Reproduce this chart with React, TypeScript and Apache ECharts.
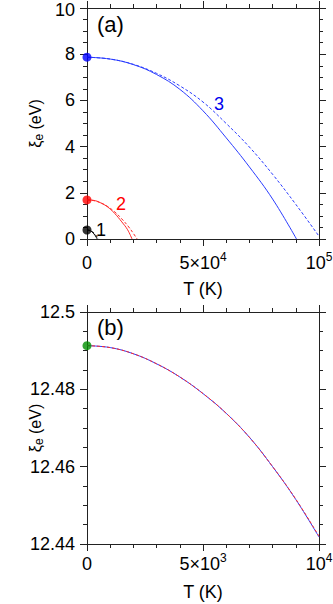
import React, { useEffect, useRef } from "react";
import * as echarts from "echarts";

// ---- Panel (a) data ----
const tBlueSolid = [0, 10000, 20000, 30000, 40000, 50000, 60000, 70000, 80000, 90300];
const xiBlueSolid = [7.87, 7.79, 7.55, 7.12, 6.48, 5.55, 4.38, 3.12, 1.73, 0];
const tBlueDash = [0, 10000, 20000, 30000, 40000, 50000, 60000, 70000, 80000, 90000, 100000];
const xiBlueDash = [7.87, 7.79, 7.56, 7.17, 6.63, 5.93, 5.0, 3.98, 2.8, 1.5, 0.12];
const tRedSolid = [0, 3000, 6000, 9000, 12000, 15000, 17500, 19400];
const xiRedSolid = [1.69, 1.67, 1.56, 1.38, 1.1, 0.74, 0.4, 0];
const tRedDash = [0, 3000, 6000, 9000, 12000, 15000, 18000, 20000, 21600];
const xiRedDash = [1.69, 1.66, 1.56, 1.4, 1.17, 0.87, 0.52, 0.24, 0];
const tBlackSolid = [0, 1500, 3000, 4400];
const xiBlackSolid = [0.39, 0.36, 0.22, 0];
const tBlackDash = [0, 2000, 3500, 5000];
const xiBlackDash = [0.39, 0.33, 0.2, 0];
const startA = [7.87, 1.69, 0.39];
const curveLabelsA = ["3", "2", "1"];

// ---- Panel (b) data ----
const tB = [0, 1000, 2000, 3000, 4000, 5000, 6000, 7000, 8000, 9000, 10000];
const xiBSolid = [12.4913, 12.4908, 12.4892, 12.4866, 12.4832, 12.4789, 12.4738, 12.4676, 12.46, 12.4515, 12.4418];
const xiBDash = [12.4913, 12.4908, 12.4892, 12.4866, 12.4832, 12.4789, 12.4738, 12.4676, 12.46, 12.4516, 12.442];
const startB = 12.4913;

// tick labels
const xTicksA: Record<number, string> = { 0: "{b|0}", 50000: "{b|5×10}{s|4}", 100000: "{b|10}{s|5}" };
const xTicksB: Record<number, string> = { 0: "{b|0}", 5000: "{b|5×10}{s|3}", 10000: "{b|10}{s|4}" };

const FONT = "Liberation Sans, Arial, Helvetica, sans-serif";
const FS = 18;
const AX = "#222";
const BLUE = "#2a3cff";
const RED = "#ff2a2a";

const pairs = (xs: number[], ys: number[]) => xs.map((x, i) => [x, ys[i]]);

const richX = {
  b: { fontSize: FS, fontFamily: FONT, color: "#000", lineHeight: 23 },
  s: { fontSize: 12, fontFamily: FONT, color: "#000", lineHeight: 12, verticalAlign: "top" },
};

function xAxisPair(gridIndex: number, max: number, interval: number, labels: Record<number, string>, margin: number, nameGap: number) {
  const common = {
    gridIndex,
    type: "value",
    min: 0,
    max,
    interval,
    axisLine: { show: true, onZero: false, lineStyle: { color: AX, width: 1 } },
    axisTick: { show: true, length: 7, lineStyle: { color: AX, width: 1 } },
    minorTick: { show: true, splitNumber: 5, length: 4, lineStyle: { color: AX, width: 1 } },
    splitLine: { show: false },
    minorSplitLine: { show: false },
  };
  return [
    {
      ...common,
      position: "bottom",
      name: "T (K)",
      nameLocation: "middle",
      nameGap,
      nameMoveOverlap: false,
      nameTextStyle: { fontSize: FS, fontFamily: FONT, color: "#000" },
      axisLabel: {
        show: true,
        margin,
        hideOverlap: false,
        formatter: (v: number) => labels[v] ?? "",
        rich: richX,
      },
    },
    { ...common, position: "top", axisLabel: { show: false } },
  ];
}

function yAxisPair(gridIndex: number, min: number, max: number, interval: number, fmt: (v: number) => string) {
  const common = {
    gridIndex,
    type: "value",
    min,
    max,
    interval,
    axisLine: { show: true, onZero: false, lineStyle: { color: AX, width: 1 } },
    axisTick: { show: true, length: 7, lineStyle: { color: AX, width: 1 } },
    minorTick: { show: true, splitNumber: 4, length: 4, lineStyle: { color: AX, width: 1 } },
    splitLine: { show: false },
    minorSplitLine: { show: false },
  };
  return [
    {
      ...common,
      position: "left",
      name: "{a|ξ}{e|e}{a| (eV)}",
      nameLocation: "middle",
      nameGap: 42,
      nameMoveOverlap: false,
      nameTextStyle: {
        rich: {
          a: { fontSize: 16, fontFamily: FONT, color: "#000", lineHeight: 20 },
          e: { fontSize: 12, fontFamily: FONT, color: "#000", lineHeight: 12, verticalAlign: "bottom" },
        },
      },
      axisLabel: {
        show: true,
        margin: 12,
        fontSize: FS,
        lineHeight: 14,
        fontFamily: FONT,
        color: "#000",
        formatter: fmt,
        rich: { t: { fontSize: FS, fontFamily: FONT, color: "#000", lineHeight: 14, padding: [4, 0, 0, 0] } },
      },
    },
    { ...common, position: "right", axisLabel: { show: false } },
  ];
}

function lineSeries(xi: number, yi: number, data: number[][], color: string, dashed: boolean, z = 2) {
  return {
    type: "line",
    xAxisIndex: xi,
    yAxisIndex: yi,
    data,
    smooth: 0.4,
    showSymbol: false,
    symbol: "none",
    z,
    lineStyle: { color, width: 1, type: dashed ? [3, 2] : "solid" },
  };
}

function dot(xi: number, yi: number, y: number, color: string) {
  return {
    type: "scatter",
    xAxisIndex: xi,
    yAxisIndex: yi,
    data: [[0, y]],
    symbol: "circle",
    symbolSize: 9,
    clip: false,
    z: 5,
    itemStyle: { color },
  };
}

export default function App() {
  const ref = useRef<HTMLDivElement>(null);
  useEffect(() => {
    if (!ref.current) return;
    const chart = echarts.init(ref.current, undefined, { renderer: "svg" });
    const option = {
      animation: false,
      backgroundColor: "#fff",
      grid: [
        { left: 87, top: 8, width: 232, height: 231, containLabel: false, outerBoundsMode: "none" },
        { left: 87, top: 312, width: 232, height: 232, containLabel: false, outerBoundsMode: "none" },
      ],
      xAxis: [
        ...xAxisPair(0, 100000, 50000, xTicksA, 12, 41),
        ...xAxisPair(1, 10000, 5000, xTicksB, 8, 39),
      ],
      yAxis: [
        ...yAxisPair(0, 0, 10, 2, (v: number) => (v >= 10 ? "{t|10}" : String(Math.round(v)))),
        ...yAxisPair(1, 12.44, 12.5, 0.02, (v: number) => String(parseFloat(v.toFixed(2)))),
      ],
      series: [
        lineSeries(0, 0, pairs(tBlueSolid, xiBlueSolid), BLUE, false),
        lineSeries(0, 0, pairs(tBlueDash, xiBlueDash), BLUE, true),
        lineSeries(0, 0, pairs(tRedSolid, xiRedSolid), RED, false),
        lineSeries(0, 0, pairs(tRedDash, xiRedDash), RED, true),
        lineSeries(0, 0, pairs(tBlackSolid, xiBlackSolid), "#000", false),
        lineSeries(0, 0, pairs(tBlackDash, xiBlackDash), "#000", true),
        dot(0, 0, startA[0], "#0000ff"),
        dot(0, 0, startA[1], "#ff0000"),
        dot(0, 0, startA[2], "#000000"),
        lineSeries(2, 2, pairs(tB, xiBSolid), BLUE, false, 2),
        lineSeries(2, 2, pairs(tB, xiBDash), RED, true, 3),
        dot(2, 2, startB, "#009000"),
      ],
      graphic: [
        { type: "text", left: 97, top: 13, style: { text: "(a)", fontSize: 22, fontFamily: FONT, fill: "#000" } },
        { type: "text", left: 97, top: 316, style: { text: "(b)", fontSize: 22, fontFamily: FONT, fill: "#000" } },
        { type: "text", left: 214, top: 95, style: { text: curveLabelsA[0], fontSize: FS, fontFamily: FONT, fill: "#0000ee" } },
        { type: "text", left: 116, top: 195, style: { text: curveLabelsA[1], fontSize: FS, fontFamily: FONT, fill: "#ff0000" } },
        { type: "text", left: 96, top: 221, style: { text: curveLabelsA[2], fontSize: FS, fontFamily: FONT, fill: "#000" } },
      ],
    };
    chart.setOption(option as any);
    return () => chart.dispose();
  }, []);
  return <div ref={ref} style={{ position: "absolute", left: 0, top: 0, width: 333, height: 604, background: "#fff" }} />;
}
